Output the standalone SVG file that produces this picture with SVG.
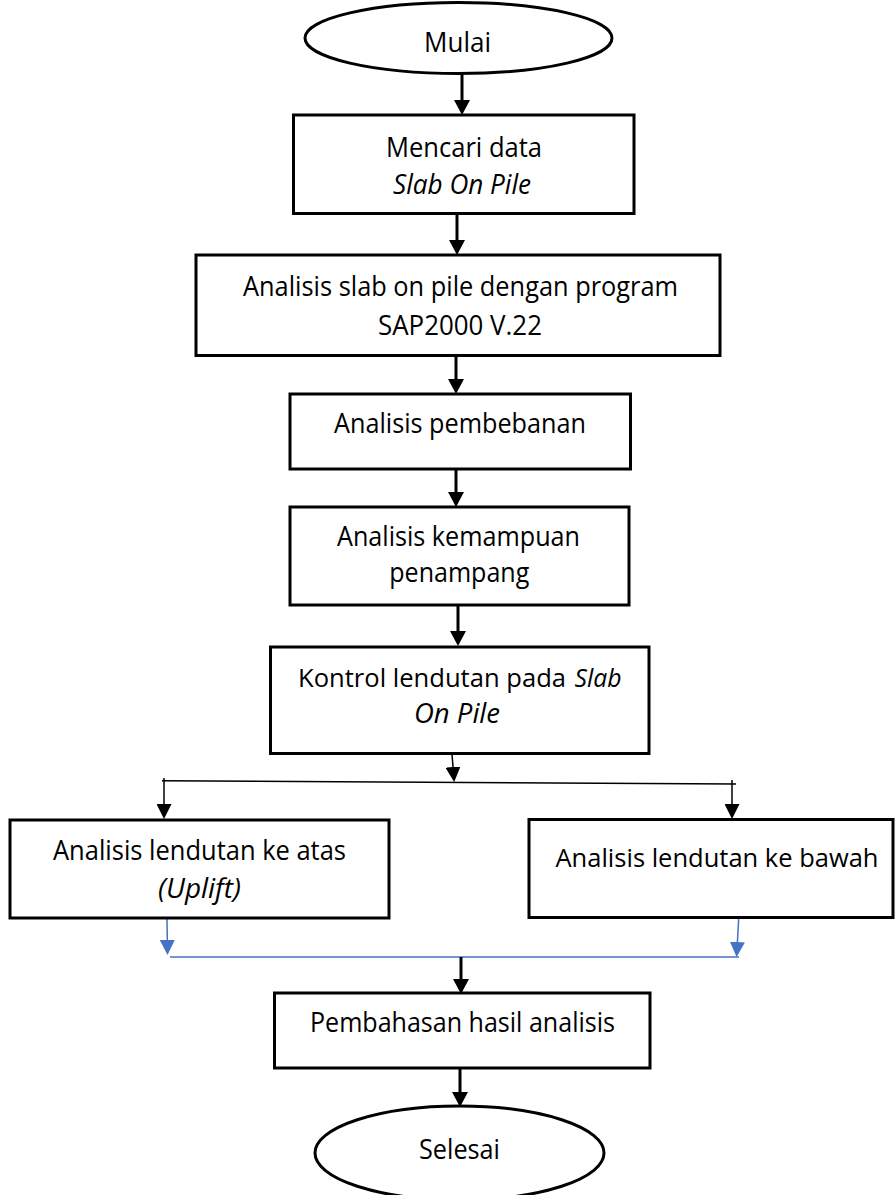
<svg xmlns="http://www.w3.org/2000/svg" width="896" height="1195" viewBox="0 0 896 1195">
<style>
.n{fill:#fff;stroke:#000;stroke-width:3}
.t{font-family:"Open Sans","Noto Sans","Liberation Sans",sans-serif;font-size:28px;fill:#000;text-anchor:middle}
.s{font-size:26px}
.i{font-style:italic}
.c{fill:none;stroke:#000;stroke-width:3}
.c1{fill:none;stroke:#000;stroke-width:1.5}
.b{fill:none;stroke:#4472C4;stroke-width:1.5}
</style>
<defs>
<marker id="ak" markerUnits="userSpaceOnUse" markerWidth="15" markerHeight="16" refX="11" refY="8" orient="auto" viewBox="0 0 15 16"><path d="M0,0 L15,8 L0,16 z" fill="#000"/></marker>
<marker id="ak1" markerUnits="userSpaceOnUse" markerWidth="15" markerHeight="15" refX="13" refY="7.5" orient="auto" viewBox="0 0 15 15"><path d="M0,0 L15,7.5 L0,15 z" fill="#000"/></marker>
<marker id="ab" markerUnits="userSpaceOnUse" markerWidth="15" markerHeight="15" refX="13" refY="7.5" orient="auto" viewBox="0 0 15 15"><path d="M0,0 L15,7.5 L0,15 z" fill="#4472C4"/></marker>
</defs>
<g id="connectors">
<line class="c" x1="462" y1="74" x2="462" y2="111" marker-end="url(#ak)"/>
<line class="c" x1="457" y1="214" x2="457" y2="251" marker-end="url(#ak)"/>
<line class="c" x1="456" y1="356" x2="456" y2="390" marker-end="url(#ak)"/>
<line class="c" x1="456" y1="470" x2="456" y2="503" marker-end="url(#ak)"/>
<line class="c" x1="458" y1="605" x2="458" y2="642" marker-end="url(#ak)"/>
<line class="c1" x1="452" y1="754" x2="454" y2="780" marker-end="url(#ak1)"/>
<line class="c1" x1="162" y1="780.7" x2="736" y2="784"/>
<line class="c1" x1="164" y1="778" x2="164" y2="817" marker-end="url(#ak1)"/>
<line class="c1" x1="732" y1="780" x2="732" y2="817" marker-end="url(#ak1)"/>
<line class="b" x1="167" y1="919" x2="167.5" y2="953" marker-end="url(#ab)"/>
<line class="b" x1="738.7" y1="918" x2="736.7" y2="955" marker-end="url(#ab)"/>
<line class="b" x1="170" y1="957" x2="739" y2="957"/>
<line class="c" x1="461" y1="957" x2="461" y2="990" marker-end="url(#ak)"/>
<line class="c" x1="460" y1="1069" x2="460" y2="1103" marker-end="url(#ak)"/>
</g>
<g id="mulai">
<ellipse class="n" cx="458.5" cy="38" rx="153.5" ry="35.5"/>
<text class="t" x="457.5" y="52" textLength="67" lengthAdjust="spacingAndGlyphs">Mulai</text>
</g>
<g id="mencari-data">
<rect class="n" x="293.5" y="115" width="340.5" height="98.5"/>
<text class="t" x="464" y="157" textLength="156" lengthAdjust="spacingAndGlyphs">Mencari data</text>
<text class="t i" x="462" y="194" textLength="138" lengthAdjust="spacingAndGlyphs">Slab On Pile</text>
</g>
<g id="analisis-sap">
<rect class="n" x="196" y="255" width="524" height="100.5"/>
<text class="t" x="460.5" y="296" textLength="435" lengthAdjust="spacingAndGlyphs">Analisis slab on pile dengan program</text>
<text class="t" x="460" y="335" textLength="164" lengthAdjust="spacingAndGlyphs">SAP2000 V.22</text>
</g>
<g id="analisis-pembebanan">
<rect class="n" x="290" y="394" width="340.5" height="75"/>
<text class="t" x="460" y="433" textLength="252" lengthAdjust="spacingAndGlyphs">Analisis pembebanan</text>
</g>
<g id="analisis-kemampuan">
<rect class="n" x="290" y="507" width="339" height="98"/>
<text class="t" x="458.5" y="546" textLength="243" lengthAdjust="spacingAndGlyphs">Analisis kemampuan</text>
<text class="t" x="459.3" y="582" textLength="140" lengthAdjust="spacingAndGlyphs">penampang</text>
</g>
<g id="kontrol-lendutan">
<rect class="n" x="270.5" y="647" width="378.5" height="106.5"/>
<text class="t s" x="432" y="687" textLength="268" lengthAdjust="spacingAndGlyphs">Kontrol lendutan pada</text>
<text class="t s i" x="598" y="687" textLength="47" lengthAdjust="spacingAndGlyphs">Slab</text>
<text class="t i" x="457" y="723" textLength="86" lengthAdjust="spacingAndGlyphs">On Pile</text>
</g>
<g id="lendutan-atas">
<rect class="n" x="10" y="820" width="379" height="98"/>
<text class="t" x="199.5" y="860" textLength="293" lengthAdjust="spacingAndGlyphs">Analisis lendutan ke atas</text>
<text class="t i" x="199.5" y="898" textLength="83" lengthAdjust="spacingAndGlyphs">(Uplift)</text>
</g>
<g id="lendutan-bawah">
<rect class="n" x="529" y="819.5" width="364" height="98"/>
<text class="t s" x="717" y="867" textLength="323" lengthAdjust="spacingAndGlyphs">Analisis lendutan ke bawah</text>
</g>
<g id="pembahasan">
<rect class="n" x="274.5" y="993" width="375.5" height="75"/>
<text class="t" x="462.5" y="1032" textLength="305" lengthAdjust="spacingAndGlyphs">Pembahasan hasil analisis</text>
</g>
<g id="selesai">
<ellipse class="n" cx="459.5" cy="1153" rx="144.5" ry="47"/>
<text class="t" x="459.5" y="1159" textLength="81" lengthAdjust="spacingAndGlyphs">Selesai</text>
</g>
</svg>
